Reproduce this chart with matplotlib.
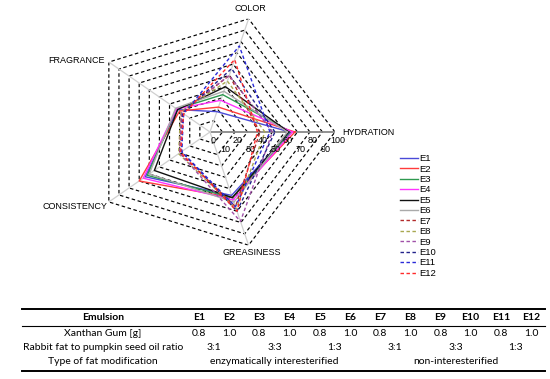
import numpy as np
import matplotlib.pyplot as plt
from matplotlib.lines import Line2D

attributes = ['HYDRATION', 'COLOR', 'FRAGRANCE', 'CONSISTENCY', 'GREASINESS']
emulsions = ['E1', 'E2', 'E3', 'E4', 'E5', 'E6', 'E7', 'E8', 'E9', 'E10', 'E11', 'E12']

# scores: hydration, color, fragrance, consistency, greasiness
E1 = [64, 18, 32, 64, 56]
E2 = [68, 22, 30, 70, 58]
E3 = [65, 33, 33, 62, 58]
E4 = [66, 28, 33, 66, 60]
E5 = [63, 40, 32, 55, 58]
E6 = [62, 36, 34, 60, 62]
E7 = [40, 50, 28, 30, 66]
E8 = [44, 45, 29, 31, 68]
E9 = [50, 50, 28, 30, 79]
E10 = [52, 56, 27, 28, 70]
E11 = [48, 76, 26, 28, 66]
E12 = [38, 64, 26, 29, 70]
scores = [E1, E2, E3, E4, E5, E6, E7, E8, E9, E10, E11, E12]

colors = ['#4a4ad8', '#ff3b3b', '#2e9950', '#ff33ff', '#111111', '#aaaaaa',
          '#b22a2a', '#a8a850', '#a050a8', '#22228a', '#2a2ad8', '#ff2a2a']
styles = ['-'] * 6 + ['--'] * 6

xanthan = ['0.8', '1.0'] * 6
ratios = ['3:1', '3:3', '1:3', '3:1', '3:3', '1:3']
modifications = ['enzymatically interesterified', 'non-interesterified']

fig = plt.figure(figsize=(5.5, 3.79), dpi=100)
ax = fig.add_axes([0.1545, 0.3377, 0.4545, 0.628], polar=True)
ax.set_aspect('auto')

theta = np.deg2rad(np.arange(5) * 72)
theta_c = np.append(theta, theta[0])

ax.set_ylim(0, 100)
ax.grid(False)
ax.spines['polar'].set_visible(False)
ax.set_xticks([])
ax.set_yticks([])
ax.patch.set_alpha(0)

# pentagon grid
for lev in range(10, 101, 10):
    ax.plot(theta_c, [lev] * 6, color='black', lw=0.85, ls=(0, (3, 2.2)), zorder=1)
# spokes
for i, t in enumerate(theta):
    if i == 0:
        ax.plot([t, t], [0, 100], color='#888888', lw=1.3, zorder=1)
    else:
        ax.plot([t, t], [0, 100], color='#d0d0d0', lw=0.9, zorder=1)

for name, vals, c, s in zip(emulsions, scores, colors, styles):
    ax.plot(theta_c, vals + vals[:1], color=c, ls=s if s == '-' else (0, (2.5, 1.8)),
            lw=1.0, label=name, zorder=3)

# tick labels along hydration axis
for v in range(0, 101, 10):
    dy = -6 if v % 20 == 0 else -12.5
    ax.annotate(str(v), xy=(0, v), xytext=(2, dy), textcoords='offset points',
                fontsize=6.5, ha='center', va='center', family='Liberation Sans',
                annotation_clip=False)

label_pos = {
    'HYDRATION': (0, 'left', 'center', (5, 0)),
    'COLOR': (1, 'center', 'bottom', (1, 4)),
    'FRAGRANCE': (2, 'right', 'center', (-3, 1)),
    'CONSISTENCY': (3, 'right', 'center', (-1, -3)),
    'GREASINESS': (4, 'center', 'top', (2, -2)),
}
for name, (i, ha, va, off) in label_pos.items():
    ax.annotate(name, xy=(theta[i], 100), xytext=off, textcoords='offset points',
                fontsize=6.5, ha=ha, va=va, family='Liberation Sans',
                annotation_clip=False)

handles, labels = ax.get_legend_handles_labels()
fig.legend(handles, labels, loc='upper left', bbox_to_anchor=(0.72, 0.603),
           frameon=False, handlelength=1.9, handletextpad=0.2,
           labelspacing=0.15, borderaxespad=0, prop={'family': 'Liberation Sans', 'size': 6.8})

# table
W, H = 550, 379
def fx(x):
    return x / W
def fy(y):
    return 1 - y / H

tfont = dict(family='Lato', fontsize=7.5)
for y, lw in [(309, 1.4), (326, 0.8), (371, 1.4)]:
    fig.add_artist(Line2D([fx(22), fx(545)], [fy(y), fy(y)], color='black', lw=lw))

cols = np.linspace(199, 531, 12)
first_col = 103
rows = [318, 334, 348, 362]
fig.text(fx(first_col), fy(rows[0]), 'Emulsion', ha='center', va='center', weight='bold', **tfont)
fig.text(fx(first_col), fy(rows[1]), 'Xanthan Gum [g]', ha='center', va='center', **tfont)
fig.text(fx(first_col), fy(rows[2]), 'Rabbit fat to pumpkin seed oil ratio', ha='center', va='center', **tfont)
fig.text(fx(first_col), fy(rows[3]), 'Type of fat modification', ha='center', va='center', **tfont)
for x, e, xg in zip(cols, emulsions, xanthan):
    fig.text(fx(x), fy(rows[0]), e, ha='center', va='center', weight='bold', **tfont)
    fig.text(fx(x), fy(rows[1]), xg, ha='center', va='center', **tfont)
for k, r in enumerate(ratios):
    x = (cols[2 * k] + cols[2 * k + 1]) / 2
    fig.text(fx(x), fy(rows[2]), r, ha='center', va='center', **tfont)
for k, m in enumerate(modifications):
    x = (cols[6 * k] + cols[6 * k + 5]) / 2
    fig.text(fx(x), fy(rows[3]), m, ha='center', va='center', **tfont)

fig.savefig('out.png', dpi=100)
